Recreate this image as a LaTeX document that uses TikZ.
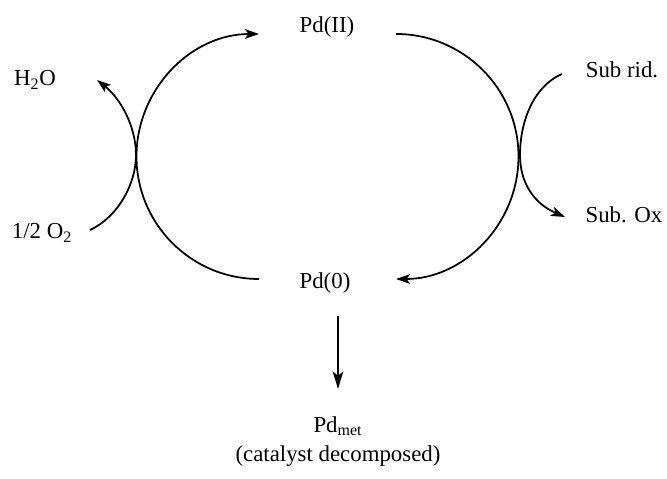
\documentclass[tikz,border=0pt]{standalone}
\usepackage{fontspec}
\setmainfont{Liberation Serif}
\usetikzlibrary{arrows.meta}
\begin{document}
\begin{tikzpicture}[x=0.02cm,y=0.02cm,
  lbl/.style={inner sep=0pt,font=\fontsize{13}{15}\selectfont},
  conn/.style={line width=1pt,-{Stealth[length=8pt,width=5.5pt,inset=2pt]}},
  plain/.style={line width=1pt}]
\useasboundingbox (0,0) rectangle (667,479);
% labels
\node[lbl] (pdii) at (327,452) {Pd(II)};
\node[lbl] (pd0) at (325,196) {Pd(0)};
\node[lbl] (h2o) at (35,399) {H\textsubscript{2}O};
\node[lbl] (o2) at (42,246) {1/2 O\textsubscript{2}};
\node[lbl] (subrid) at (622,409) {Sub rid.};
\node[lbl] (subox) at (624,264) {Sub. Ox};
\node[lbl] (pdmet) at (338,53) {Pd\textsubscript{met}};
\node[lbl] (cat) at (338,23) {(catalyst decomposed)};
% arc end points
\coordinate (lstart) at (259,200);
\coordinate (rstart) at (396,445);
\coordinate (o2end) at (90,249);
\coordinate (subend) at (562,405);
\coordinate (vtop) at (338,163);
\coordinate (vbot) at (338,90);
% main cycle
\draw[conn] (lstart) arc[start angle=-90,end angle=-270,radius=122.5];
\draw[conn] (rstart) arc[start angle=90,end angle=-90,radius=122.5];
% side arcs
\draw[conn] (o2end) .. controls (118,262) and (136,295) .. (136,324)
   .. controls (136,353) and (120,381) .. (97,399);
\draw[conn] (subend) .. controls (532,392) and (520,355) .. (520,324)
   .. controls (520,295) and (535,275) .. (565,262);
% decomposition
\draw[line width=1.4pt,-{Stealth[length=10pt,width=6pt,inset=2.5pt]}] (vtop) -- (vbot);
\end{tikzpicture}
\end{document}
